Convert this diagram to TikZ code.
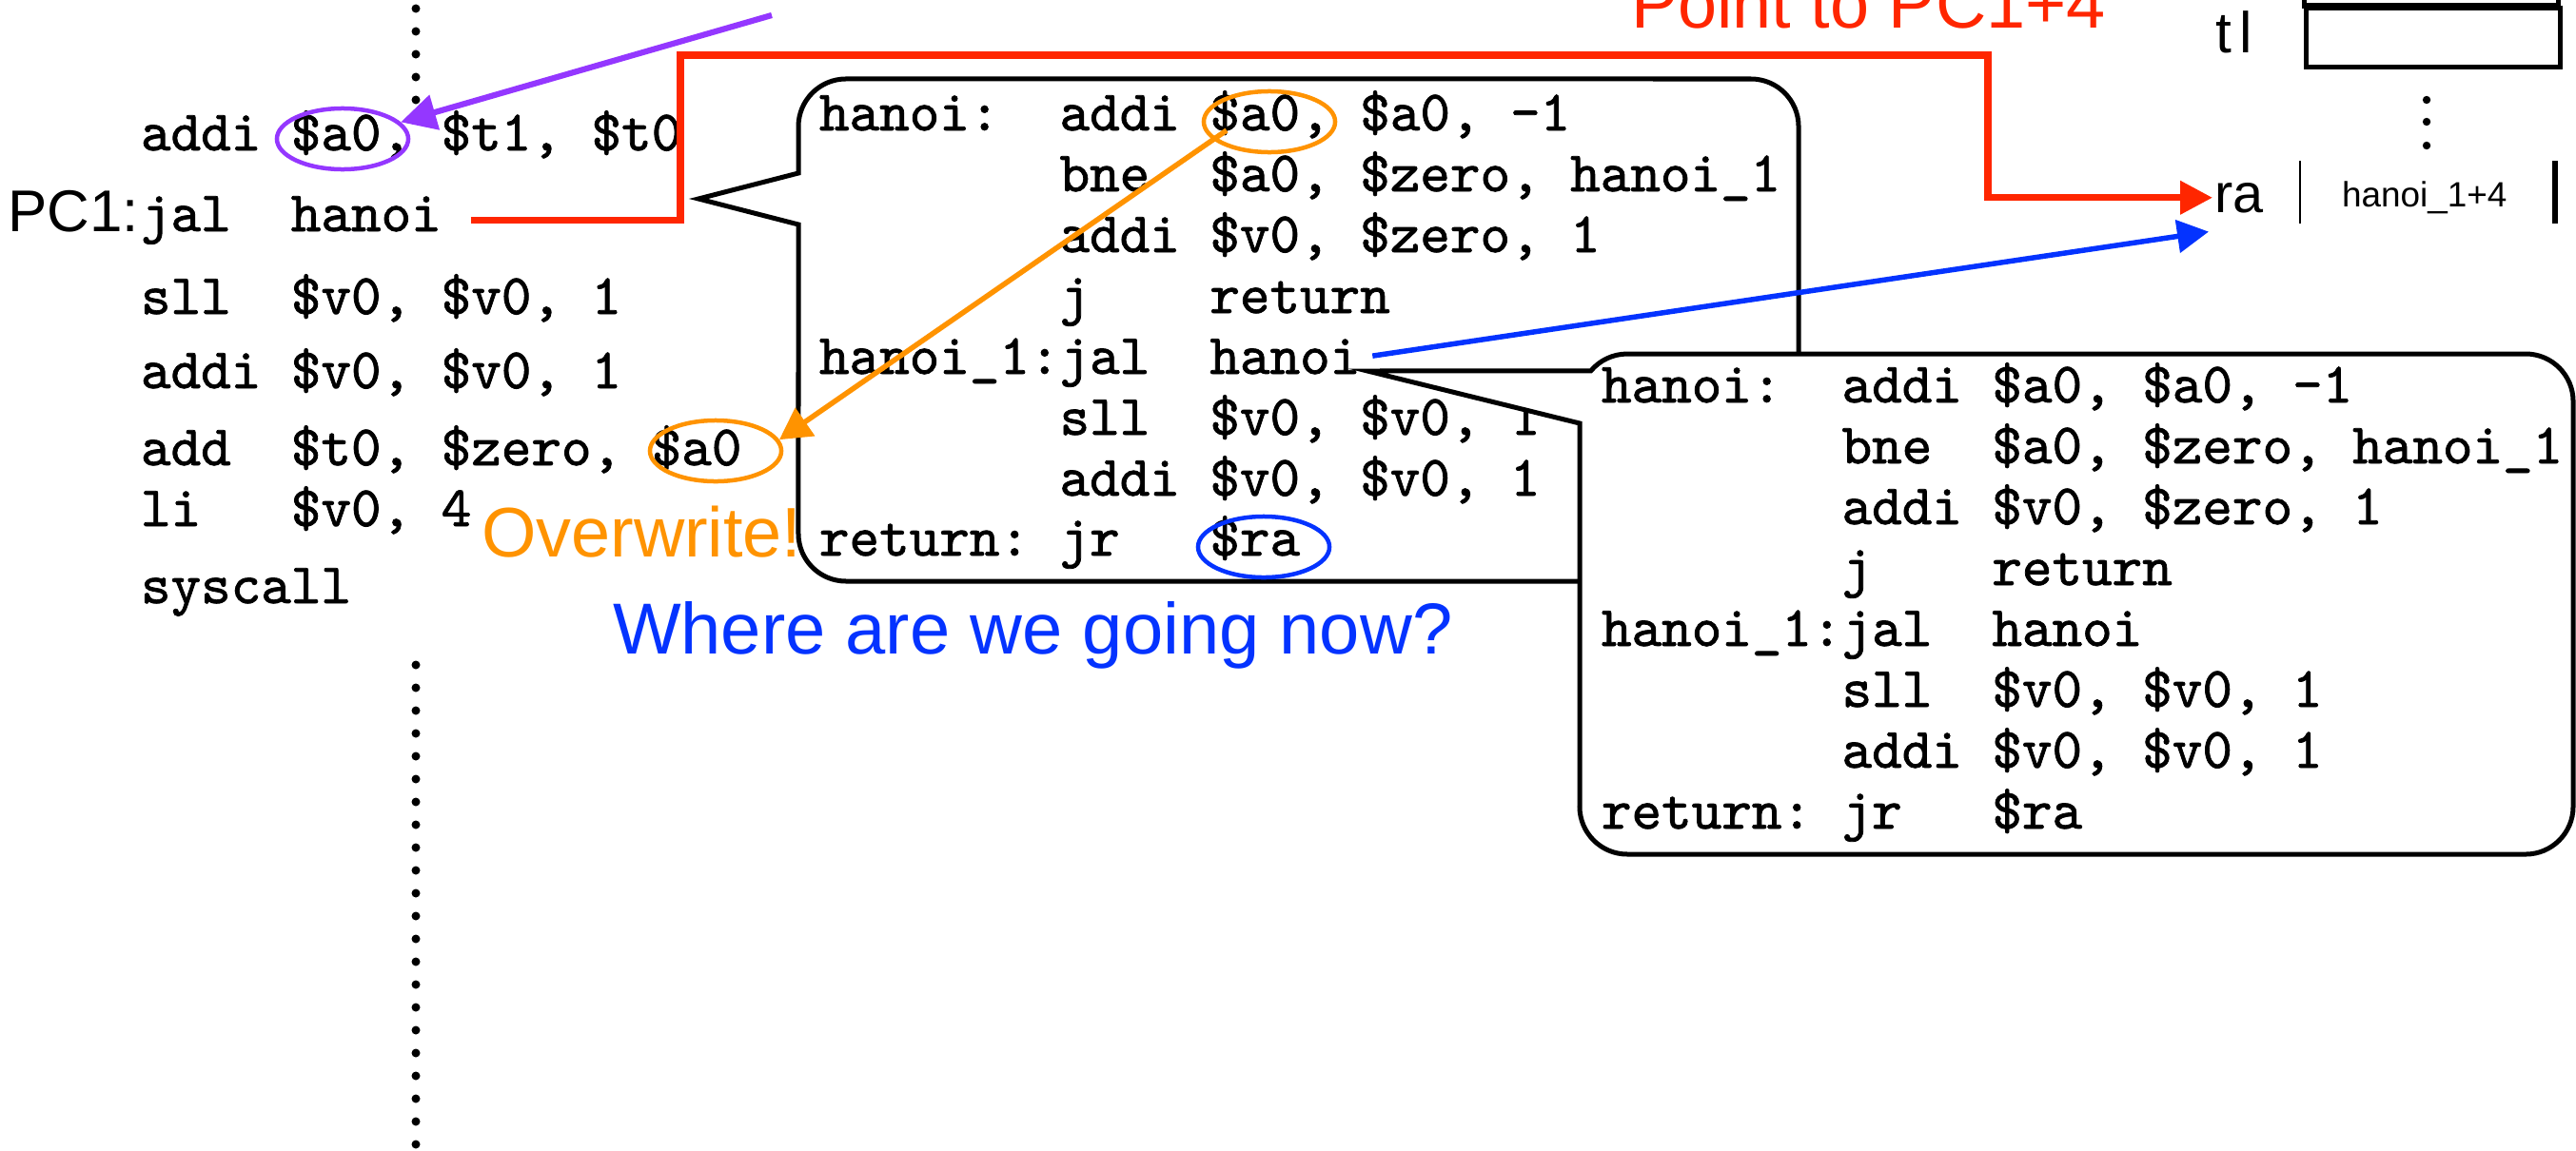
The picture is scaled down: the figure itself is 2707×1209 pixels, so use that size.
\documentclass[tikz,border=0pt]{standalone}
\usepackage{fontspec}
\setmainfont{Liberation Sans}
\setmonofont{lmmono10-regular.otf}[FakeBold=1.3]
\usetikzlibrary{arrows.meta,shapes.geometric}
\definecolor{kred}{RGB}{255,38,0}
\definecolor{kpurple}{RGB}{148,55,255}
\definecolor{korange}{RGB}{255,147,0}
\definecolor{kblue}{RGB}{4,51,255}
\begin{document}
\begin{tikzpicture}[x=0.01cm,y=-0.01cm,
  code/.style={inner sep=0pt,outer sep=0pt,anchor=base west,font=\ttfamily\fontsize{17.1pt}{20pt}\selectfont},
  lbl/.style={inner sep=0pt,outer sep=0pt,anchor=base west,font=\fontsize{16.4pt}{19pt}\selectfont},
  big/.style={inner sep=0pt,outer sep=0pt,anchor=base west,font=\fontsize{21pt}{25pt}\selectfont},
  small/.style={inner sep=0pt,outer sep=0pt,anchor=base west,font=\fontsize{10.5pt}{12pt}\selectfont},
  bubble/.style={draw=black,line width=0.05cm,fill=white},
  ring/.style={ellipse,draw,line width=0.045cm,minimum width=1.38cm,minimum height=0.64cm,inner sep=0pt},
  dotmark/.style={fill=black},
]
\useasboundingbox (0,0) rectangle (2707,1209);

% dotted separator
\foreach \k in {0,...,4} \fill[dotmark] (437,{9+24*\k}) circle[radius=0.045cm];
\foreach \k in {0,...,21} \fill[dotmark] (437,{699+24*\k}) circle[radius=0.045cm];

% left column code
\node[code] (l1) at (148,158) {addi~\$a0,~\$t1,~\$t0};
\node[code] (l2) at (148,243) {jal~~hanoi};
\node[code] (l3) at (148,330) {sll~~\$v0,~\$v0,~1};
\node[code] (l4) at (148,408) {addi~\$v0,~\$v0,~1};
\node[code] (l5) at (148,489) {add~~\$t0,~\$zero,~\$a0};
\node[code] (l6) at (148,553) {li~~~\$v0,~4};
\node[code] (l7) at (148,634) {syscall};
\node[lbl,anchor=base east,font=\fontsize{17.6pt}{20pt}\selectfont] (pc) at (146,243) {PC1:};

% bubble 1
\draw[bubble] (839,236) -- (734,209) -- (839,182) -- (839,133)
  arc[start angle=180,end angle=90,radius=0.5cm] -- (1840,83)
  arc[start angle=90,end angle=0,radius=0.5cm] -- (1890,561)
  arc[start angle=0,end angle=-90,radius=0.5cm] -- (889,611)
  arc[start angle=270,end angle=180,radius=0.5cm] -- cycle;
\node[code] (b1l1) at (861,137) {hanoi:~~addi~\$a0,~\$a0,~-1};
\node[code] (b1l2) at (861,201) {~~~~~~~~bne~~\$a0,~\$zero,~hanoi\_1};
\node[code] (b1l3) at (861,265) {~~~~~~~~addi~\$v0,~\$zero,~1};
\node[code] (b1l4) at (861,329) {~~~~~~~~j~~~~return};
\node[code] (b1l5) at (861,393) {hanoi\_1:jal~~hanoi};
\node[code] (b1l6) at (861,457) {~~~~~~~~sll~~\$v0,~\$v0,~1};
\node[code] (b1l7) at (861,521) {~~~~~~~~addi~\$v0,~\$v0,~1};
\node[code] (b1l8) at (861,584) {return:~jr~~~\$ra};

% bubble 2
\draw[bubble] (1660,445) -- (1437,390) -- (1671.7,389.9)
  arc[start angle=140,end angle=90,radius=0.5cm] -- (2654,372)
  arc[start angle=90,end angle=0,radius=0.5cm] -- (2704,848)
  arc[start angle=0,end angle=-90,radius=0.5cm] -- (1710,898)
  arc[start angle=270,end angle=180,radius=0.5cm] -- cycle;
\node[code] (b2l1) at (1683,423) {hanoi:~~addi~\$a0,~\$a0,~-1};
\node[code] (b2l2) at (1683,487) {~~~~~~~~bne~~\$a0,~\$zero,~hanoi\_1};
\node[code] (b2l3) at (1683,551) {~~~~~~~~addi~\$v0,~\$zero,~1};
\node[code] (b2l4) at (1683,615) {~~~~~~~~j~~~~return};
\node[code] (b2l5) at (1683,679) {hanoi\_1:jal~~hanoi};
\node[code] (b2l6) at (1683,743) {~~~~~~~~sll~~\$v0,~\$v0,~1};
\node[code] (b2l7) at (1683,807) {~~~~~~~~addi~\$v0,~\$v0,~1};
\node[code] (b2l8) at (1683,871) {return:~jr~~~\$ra};

% register file
\draw[line width=0.05cm] (2421,-20) rectangle (2688,6);
\node[draw,line width=0.05cm,minimum width=2.67cm,minimum height=0.62cm,inner sep=0pt,anchor=north west] (tlbox) at (2421,6) {};
\node[lbl,font=\fontsize{17.2pt}{20pt}\selectfont] (tl) at (2328,55) {t\kern0.09cm l};
\foreach \yy in {105,128,153} \fill[dotmark] (2550,\yy) circle[radius=0.042cm];
\node[lbl] (ra) at (2327,223) {ra};
\node[small] (rav) at (2461,217) {hanoi\_1+4};
\draw[line width=0.022cm] (2417,169) -- (2417,235);
\draw[line width=0.055cm] (2685,169) -- (2685,235);

% highlight rings
\node[ring,draw=kpurple] (pell) at (360,146) {};
\node[ring,draw=korange] (oellA) at (1334,128) {};
\node[ring,draw=korange] (oellB) at (752,474) {};
\node[ring,draw=kblue] (bell) at (1328,575) {};

% captions
\node[big,text=korange] (ow) at (506,585) {Overwrite!};
\node[big,text=kblue,font=\fontsize{21.6pt}{25pt}\selectfont] (where) at (644,687) {Where are we going now?};
\node[big,text=kred] (pt) at (1714,29) {Point to PC1+4};

% connectors
\coordinate (ptop) at (811,16);
\coordinate (rA) at (715,58);
\coordinate (rB) at (2089,58);
\draw[kred,line width=0.072cm,-{Triangle[length=3.4mm,width=3.4mm]}]
  ([xshift=0.31cm]l2.east) -| (rA) -- (rB) |- ([xshift=-0.02cm]ra.west);
\draw[kpurple,line width=0.062cm,-{Triangle[length=3.7mm,width=3.7mm]}] (ptop) -- (pell);
\draw[korange,line width=0.055cm,-{Triangle[length=3.3mm,width=3.5mm]}]
  ([xshift=-0.45cm,yshift=-0.09cm]oellA.center) -- (oellB.10);
\draw[kblue,line width=0.055cm,-{Triangle[length=3.3mm,width=3.4mm]}]
  ([xshift=0.13cm,yshift=0.07cm]b1l5.east) -- ([xshift=-0.06cm,yshift=-0.2cm]ra.south west);
\end{tikzpicture}
\end{document}
